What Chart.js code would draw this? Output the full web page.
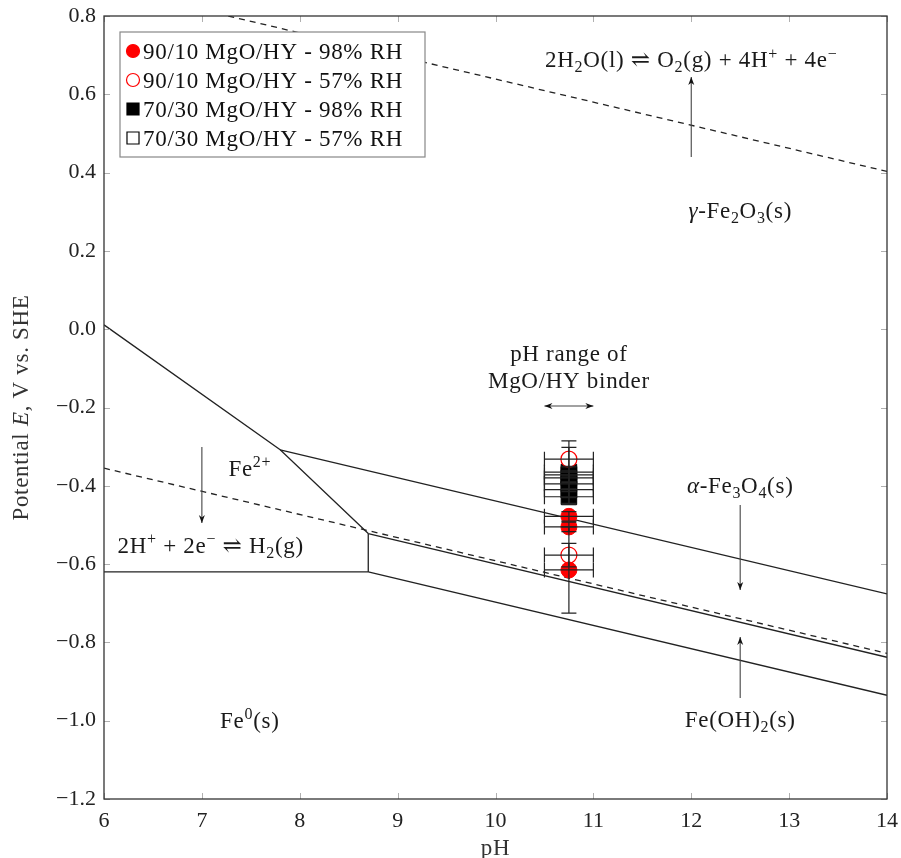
<!DOCTYPE html>
<html>
<head>
<meta charset="utf-8">
<script src="https://cdn.jsdelivr.net/npm/chart.js@4.4.1/dist/chart.umd.min.js"></script>
<style>
  html, body { margin: 0; padding: 0; background: #fff; }
  #wrap { width: 901px; height: 858px; }
</style>
</head>
<body>
<div id="wrap"><canvas id="pourbaix" width="901" height="858"></canvas></div>
<script>
// ---- data ----
const sampleX = 10.75;          // pH of the MgO/HY samples
const sampleXErr = 0.25;

const red98Y = [-0.478, -0.505, -0.615];
const red98Err = [0.012, 0.012, 0.11];
const red57Y = [-0.332, -0.577];
const red57Err = [0.03, 0.03];
const black98Y = [-0.365, -0.38, -0.395, -0.428];
const black98Err = [0.08, 0.03, 0.02, 0.02];
const black57Y = [-0.372, -0.41];
const black57Err = [0.02, 0.02];

// phase boundaries (pH, E)
const o2LineX = [7.27, 14];        const o2LineY = [0.8, 0.403];
const h2LineX = [6, 14];           const h2LineY = [-0.355, -0.828];
const feFe2X = [6, 8.7];           const feFe2Y = [-0.62, -0.62];
const feFeOHX = [8.7, 14];         const feFeOHY = [-0.62, -0.935];
const fe2SteepX = [6, 7.8, 8.7];   const fe2SteepY = [0.011, -0.308, -0.522];
const feOHMagX = [8.7, 14];        const feOHMagY = [-0.522, -0.838];
const magHemX = [7.8, 14];         const magHemY = [-0.308, -0.676];
const fe2FeOHX = [8.7, 8.7];       const fe2FeOHY = [-0.62, -0.522];

const xTicks = [6, 7, 8, 9, 10, 11, 12, 13, 14];
const yTicks = [0.8, 0.6, 0.4, 0.2, 0.0, -0.2, -0.4, -0.6, -0.8, -1.0, -1.2];

const SERIF = "'Liberation Serif', 'DejaVu Serif', serif";
const FS = 23;
const LS = '0.7px';

// text labels placed in data coordinates
const labels = [
    { x: 12, y: 0.688, text: '2H_{2}O(l) ⇌ O_{2}(g) + 4H^{+} + 4e^{−}' },
    { x: 12.5, y: 0.304, text: '*{γ}-Fe_{2}O_{3}(s)' },
    { x: 10.75, y: -0.063, text: 'pH range of' },
    { x: 10.75, y: -0.132, text: 'MgO/HY binder' },
    { x: 12.5, y: -0.398, text: '*{α}-Fe_{3}O_{4}(s)' },
    { x: 12.5, y: -0.996, text: 'Fe(OH)_{2}(s)' },
    { x: 7.49, y: -0.355, text: 'Fe^{2+}' },
    { x: 7.09, y: -0.551, text: '2H^{+} + 2e^{−} ⇌ H_{2}(g)' },
    { x: 7.49, y: -0.998, text: 'Fe^{0}(s)' }
];
// arrows: from (x1,y1) to (x2,y2), head at the end; both=true gives two heads
const arrows = [
    { x1: 12, y1: 0.44, x2: 12, y2: 0.644 },
    { x1: 10.5, y1: -0.196, x2: 11.0, y2: -0.196, both: true },
    { x1: 12.5, y1: -0.449, x2: 12.5, y2: -0.666 },
    { x1: 12.5, y1: -0.942, x2: 12.5, y2: -0.786 },
    { x1: 7, y1: -0.301, x2: 7, y2: -0.495 }
];

function pts(xs, ys) {
    return xs.map((x, i) => ({ x: x, y: ys[i] }));
}
function samples(ys, errs) {
    return ys.map((y, i) => ({ x: sampleX, y: y, xe: sampleXErr, ye: errs[i] }));
}
function boundary(xs, ys, dashed) {
    return {
        data: pts(xs, ys),
        showLine: true,
        pointRadius: 0,
        borderColor: '#222',
        borderWidth: 1.3,
        borderDash: dashed ? [6, 5] : [],
        order: 10
    };
}

// ---- rich text: _{sub} ^{sup} *{italic} ----
function parseRich(str) {
    const out = [];
    let i = 0, buf = '';
    while (i < str.length) {
        const c = str[i];
        if ((c === '_' || c === '^' || c === '*') && str[i + 1] === '{') {
            if (buf) { out.push({ text: buf, mode: 'n' }); buf = ''; }
            const end = str.indexOf('}', i + 2);
            out.push({ text: str.slice(i + 2, end), mode: c === '_' ? 'sub' : c === '^' ? 'sup' : 'it' });
            i = end + 1;
        } else {
            buf += c;
            i++;
        }
    }
    if (buf) out.push({ text: buf, mode: 'n' });
    return out;
}

function drawRich(ctx, str, x, y, size, align) {
    const parts = parseRich(str);
    const fontFor = m => (m === 'it' ? 'italic ' : '') +
        Math.round(m === 'sub' || m === 'sup' ? size * 0.7 : size) + 'px ' + SERIF;
    ctx.letterSpacing = LS;
    let w = 0;
    parts.forEach(p => {
        ctx.font = fontFor(p.mode);
        p.w = ctx.measureText(p.text).width;
        w += p.w;
    });
    let cx = align === 'center' ? x - w / 2 : x;
    ctx.textAlign = 'left';
    ctx.textBaseline = 'alphabetic';
    parts.forEach(p => {
        ctx.font = fontFor(p.mode);
        const dy = p.mode === 'sub' ? size * 0.22 : p.mode === 'sup' ? -size * 0.38 : 0;
        ctx.fillText(p.text, cx, y + dy);
        cx += p.w;
    });
    ctx.letterSpacing = '0px';
}

function arrowHead(ctx, x, y, ang) {
    const len = 8, half = 3;
    ctx.beginPath();
    ctx.moveTo(x, y);
    ctx.lineTo(x - len * Math.cos(ang) + half * Math.sin(ang), y - len * Math.sin(ang) - half * Math.cos(ang));
    ctx.lineTo(x - len * 0.7 * Math.cos(ang), y - len * 0.7 * Math.sin(ang));
    ctx.lineTo(x - len * Math.cos(ang) - half * Math.sin(ang), y - len * Math.sin(ang) + half * Math.cos(ang));
    ctx.closePath();
    ctx.fill();
}

// error bars for the sample datasets
const errorBarPlugin = {
    id: 'errorBars',
    afterDatasetsDraw(chart) {
        const ctx = chart.ctx;
        const xs = chart.scales.x, ys = chart.scales.y;
        const cap = 7.5;
        ctx.save();
        ctx.strokeStyle = '#222';
        ctx.lineWidth = 1.2;
        chart.data.datasets.forEach(ds => {
            if (!ds.errorBars) return;
            ds.data.forEach(p => {
                const px = xs.getPixelForValue(p.x), py = ys.getPixelForValue(p.y);
                const xl = xs.getPixelForValue(p.x - p.xe), xr = xs.getPixelForValue(p.x + p.xe);
                const yt = ys.getPixelForValue(p.y + p.ye), yb = ys.getPixelForValue(p.y - p.ye);
                ctx.beginPath();
                ctx.moveTo(xl, py); ctx.lineTo(xr, py);
                ctx.moveTo(xl, py - cap); ctx.lineTo(xl, py + cap);
                ctx.moveTo(xr, py - cap); ctx.lineTo(xr, py + cap);
                ctx.moveTo(px, yt); ctx.lineTo(px, yb);
                ctx.moveTo(px - cap, yt); ctx.lineTo(px + cap, yt);
                ctx.moveTo(px - cap, yb); ctx.lineTo(px + cap, yb);
                ctx.stroke();
            });
        });
        ctx.restore();
    }
};

// frame, inner ticks, annotations, axis titles, legend
const decorPlugin = {
    id: 'decor',
    afterDraw(chart) {
        const ctx = chart.ctx;
        const a = chart.chartArea;
        const xs = chart.scales.x, ys = chart.scales.y;
        ctx.save();

        // inner tick marks on all four sides
        ctx.strokeStyle = '#b0b0b0';
        ctx.lineWidth = 1;
        const tl = 6;
        ctx.beginPath();
        xTicks.forEach(v => {
            const px = Math.round(xs.getPixelForValue(v)) + 0.5;
            ctx.moveTo(px, a.bottom); ctx.lineTo(px, a.bottom - tl);
            ctx.moveTo(px, a.top); ctx.lineTo(px, a.top + tl);
        });
        yTicks.forEach(v => {
            const py = Math.round(ys.getPixelForValue(v)) + 0.5;
            ctx.moveTo(a.left, py); ctx.lineTo(a.left + tl, py);
            ctx.moveTo(a.right, py); ctx.lineTo(a.right - tl, py);
        });
        ctx.stroke();

        // frame
        ctx.strokeStyle = '#333';
        ctx.lineWidth = 1.3;
        ctx.strokeRect(a.left, a.top, a.right - a.left, a.bottom - a.top);

        // annotation labels
        ctx.fillStyle = '#1a1a1a';
        labels.forEach(l => {
            drawRich(ctx, l.text, xs.getPixelForValue(l.x), ys.getPixelForValue(l.y) + FS * 0.33, FS, 'center');
        });

        // arrows
        ctx.strokeStyle = '#444';
        ctx.fillStyle = '#111';
        ctx.lineWidth = 1.1;
        arrows.forEach(ar => {
            const x1 = xs.getPixelForValue(ar.x1), y1 = ys.getPixelForValue(ar.y1);
            const x2 = xs.getPixelForValue(ar.x2), y2 = ys.getPixelForValue(ar.y2);
            ctx.beginPath();
            ctx.moveTo(x1, y1); ctx.lineTo(x2, y2);
            ctx.stroke();
            const ang = Math.atan2(y2 - y1, x2 - x1);
            arrowHead(ctx, x2, y2, ang);
            if (ar.both) arrowHead(ctx, x1, y1, ang + Math.PI);
        });

        // axis titles
        ctx.fillStyle = '#333';
        drawRich(ctx, 'pH', (a.left + a.right) / 2, 855, FS, 'center');
        ctx.save();
        ctx.translate(28, (a.top + a.bottom) / 2);
        ctx.rotate(-Math.PI / 2);
        drawRich(ctx, 'Potential *{E}, V vs. SHE', 0, 0, FS, 'center');
        ctx.restore();

        // legend box inside the plot area
        const items = chart.data.datasets.filter(d => d.inLegend);
        const bx = a.left + 16, by = a.top + 16, bw = 305, rowH = 29;
        const bh = items.length * rowH + 9;
        ctx.fillStyle = '#fff';
        ctx.fillRect(bx, by, bw, bh);
        ctx.strokeStyle = '#888';
        ctx.lineWidth = 1.2;
        ctx.strokeRect(bx, by, bw, bh);
        items.forEach((d, i) => {
            const cy = by + 19 + i * rowH;
            ctx.fillStyle = d.backgroundColor;
            ctx.strokeStyle = d.borderColor;
            ctx.lineWidth = 1.2;
            Chart.helpers.drawPoint(ctx, {
                pointStyle: d.pointStyle,
                radius: d.pointStyle === 'rect' ? 8.5 : 6.5,
                rotation: 0,
                borderWidth: 1.2
            }, bx + 13, cy);
            ctx.fillStyle = '#111';
            drawRich(ctx, d.label, bx + 23, cy + 8, FS, 'left');
        });

        ctx.restore();
    }
};

const ctx = document.getElementById('pourbaix').getContext('2d');

new Chart(ctx, {
    type: 'scatter',
    data: {
        datasets: [
            {
                label: '90/10 MgO/HY - 98% RH',
                data: samples(red98Y, red98Err),
                pointStyle: 'circle',
                pointRadius: 8,
                backgroundColor: '#ff0000',
                borderColor: '#ff0000',
                borderWidth: 1,
                errorBars: true,
                inLegend: true,
                order: 1
            },
            {
                label: '90/10 MgO/HY - 57% RH',
                data: samples(red57Y, red57Err),
                pointStyle: 'circle',
                pointRadius: 8,
                backgroundColor: '#ffffff',
                borderColor: '#ff0000',
                borderWidth: 1.2,
                errorBars: true,
                inLegend: true,
                order: 2
            },
            {
                label: '70/30 MgO/HY - 98% RH',
                data: samples(black98Y, black98Err),
                pointStyle: 'rect',
                pointRadius: 11,
                backgroundColor: '#000000',
                borderColor: '#000000',
                borderWidth: 1,
                errorBars: true,
                inLegend: true,
                order: 3
            },
            {
                label: '70/30 MgO/HY - 57% RH',
                data: samples(black57Y, black57Err),
                pointStyle: 'rect',
                pointRadius: 11,
                backgroundColor: '#ffffff',
                borderColor: '#000000',
                borderWidth: 1.2,
                errorBars: true,
                inLegend: true,
                order: 4
            },
            boundary(o2LineX, o2LineY, true),
            boundary(h2LineX, h2LineY, true),
            boundary(feFe2X, feFe2Y, false),
            boundary(feFeOHX, feFeOHY, false),
            boundary(fe2SteepX, fe2SteepY, false),
            boundary(feOHMagX, feOHMagY, false),
            boundary(magHemX, magHemY, false),
            boundary(fe2FeOHX, fe2FeOHY, false)
        ]
    },
    options: {
        responsive: false,
        animation: false,
        devicePixelRatio: 1,
        layout: { padding: { top: 16, right: 14, left: 0, bottom: 0 } },
        plugins: {
            legend: { display: false },
            tooltip: { enabled: false }
        },
        scales: {
            x: {
                type: 'linear',
                min: 6,
                max: 14,
                afterFit: s => { s.height = 59; s.paddingLeft = 0; s.paddingRight = 0; },
                afterBuildTicks: s => { s.ticks = xTicks.map(v => ({ value: v })); },
                grid: { display: false, drawTicks: false },
                border: { display: false },
                ticks: {
                    color: '#222',
                    padding: 9,
                    font: { family: SERIF, size: 22 },
                    callback: v => String(v)
                }
            },
            y: {
                type: 'linear',
                min: -1.2,
                max: 0.8,
                afterFit: s => { s.width = 104; s.paddingTop = 0; s.paddingBottom = 0; },
                afterBuildTicks: s => { s.ticks = yTicks.map(v => ({ value: v })); },
                grid: { display: false, drawTicks: false },
                border: { display: false },
                ticks: {
                    color: '#222',
                    padding: 8,
                    font: { family: SERIF, size: 22 },
                    callback: v => (v < -1e-9 ? '−' : '') + Math.abs(v).toFixed(1)
                }
            }
        }
    },
    plugins: [errorBarPlugin, decorPlugin]
});
</script>
</body>
</html>
